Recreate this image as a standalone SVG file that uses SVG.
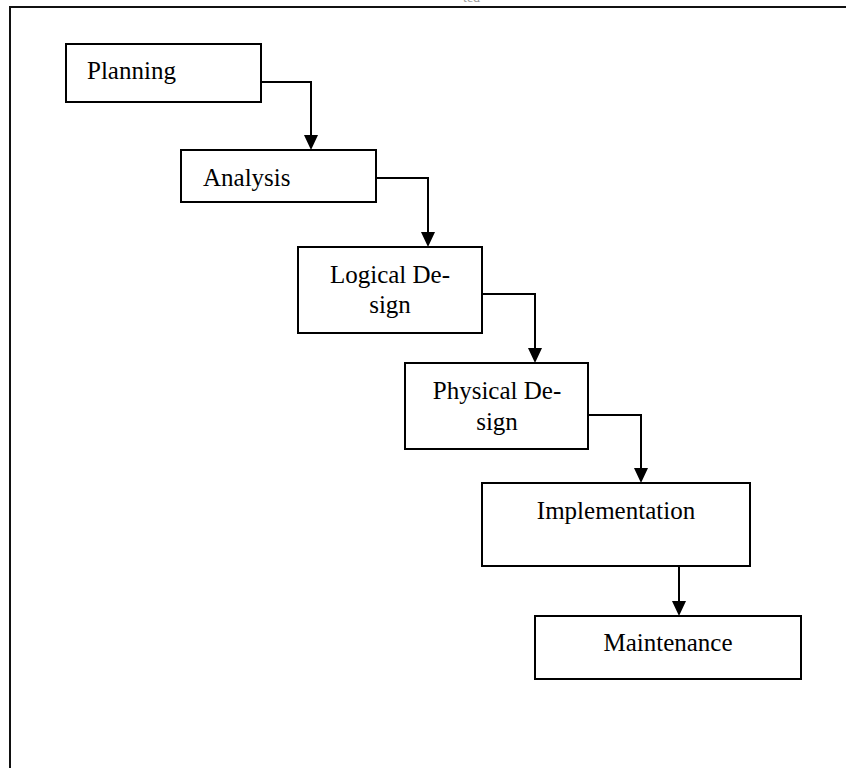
<svg xmlns="http://www.w3.org/2000/svg" width="846" height="768" viewBox="0 0 846 768">
  <style>
    .box { fill: #ffffff; stroke: #000000; stroke-width: 2; }
    .label { font-family: "Liberation Serif", "Times New Roman", serif; font-size: 25px; fill: #000000; }
    .mid { text-anchor: middle; }
    .conn { fill: none; stroke: #000000; stroke-width: 2; }
    .frame { fill: none; stroke: #111111; stroke-width: 2; }
  </style>
  <defs>
    <marker id="arrow" markerUnits="userSpaceOnUse" markerWidth="16" markerHeight="16" viewBox="0 0 16 16" refX="8" refY="15" orient="auto-start-reverse">
      <path d="M1,0 L15,0 L8,15 Z" fill="#000000" transform="rotate(-90 8 8) rotate(90 8 8)"/>
    </marker>
  </defs>

  <rect width="846" height="768" fill="#ffffff"/>

  <!-- page frame, clipped at right and bottom -->
  <path class="frame" d="M10,768 V7 H846"/>
  <text x="463" y="2" font-family="Liberation Serif, serif" font-size="14" fill="#999999">ted</text>

  <g id="connectors">
    <path class="conn" d="M261,82 H311 V136"/>
    <path class="conn" d="M376,178 H428 V233"/>
    <path class="conn" d="M482,294 H535 V349"/>
    <path class="conn" d="M588,415 H641 V469"/>
    <path class="conn" d="M679,566 V602"/>
    <g fill="#000000">
      <polygon points="304,135 318,135 311,150"/>
      <polygon points="421,232 435,232 428,247"/>
      <polygon points="528,348 542,348 535,363"/>
      <polygon points="634,468 648,468 641,483"/>
      <polygon points="672,601 686,601 679,616"/>
    </g>
  </g>

  <g id="planning">
    <rect class="box" x="66" y="44" width="195" height="58"/>
    <text class="label" x="87" y="79">Planning</text>
  </g>

  <g id="analysis">
    <rect class="box" x="181" y="150" width="195" height="52"/>
    <text class="label" x="203" y="186">Analysis</text>
  </g>

  <g id="logical-design">
    <rect class="box" x="298" y="247" width="184" height="86"/>
    <text class="label mid" x="390" y="283">Logical De-</text>
    <text class="label mid" x="390" y="313">sign</text>
  </g>

  <g id="physical-design">
    <rect class="box" x="405" y="363" width="183" height="86"/>
    <text class="label mid" x="497" y="399">Physical De-</text>
    <text class="label mid" x="497" y="430">sign</text>
  </g>

  <g id="implementation">
    <rect class="box" x="482" y="483" width="268" height="83"/>
    <text class="label mid" x="616" y="519">Implementation</text>
  </g>

  <g id="maintenance">
    <rect class="box" x="535" y="616" width="266" height="63"/>
    <text class="label mid" x="668" y="651">Maintenance</text>
  </g>
</svg>
